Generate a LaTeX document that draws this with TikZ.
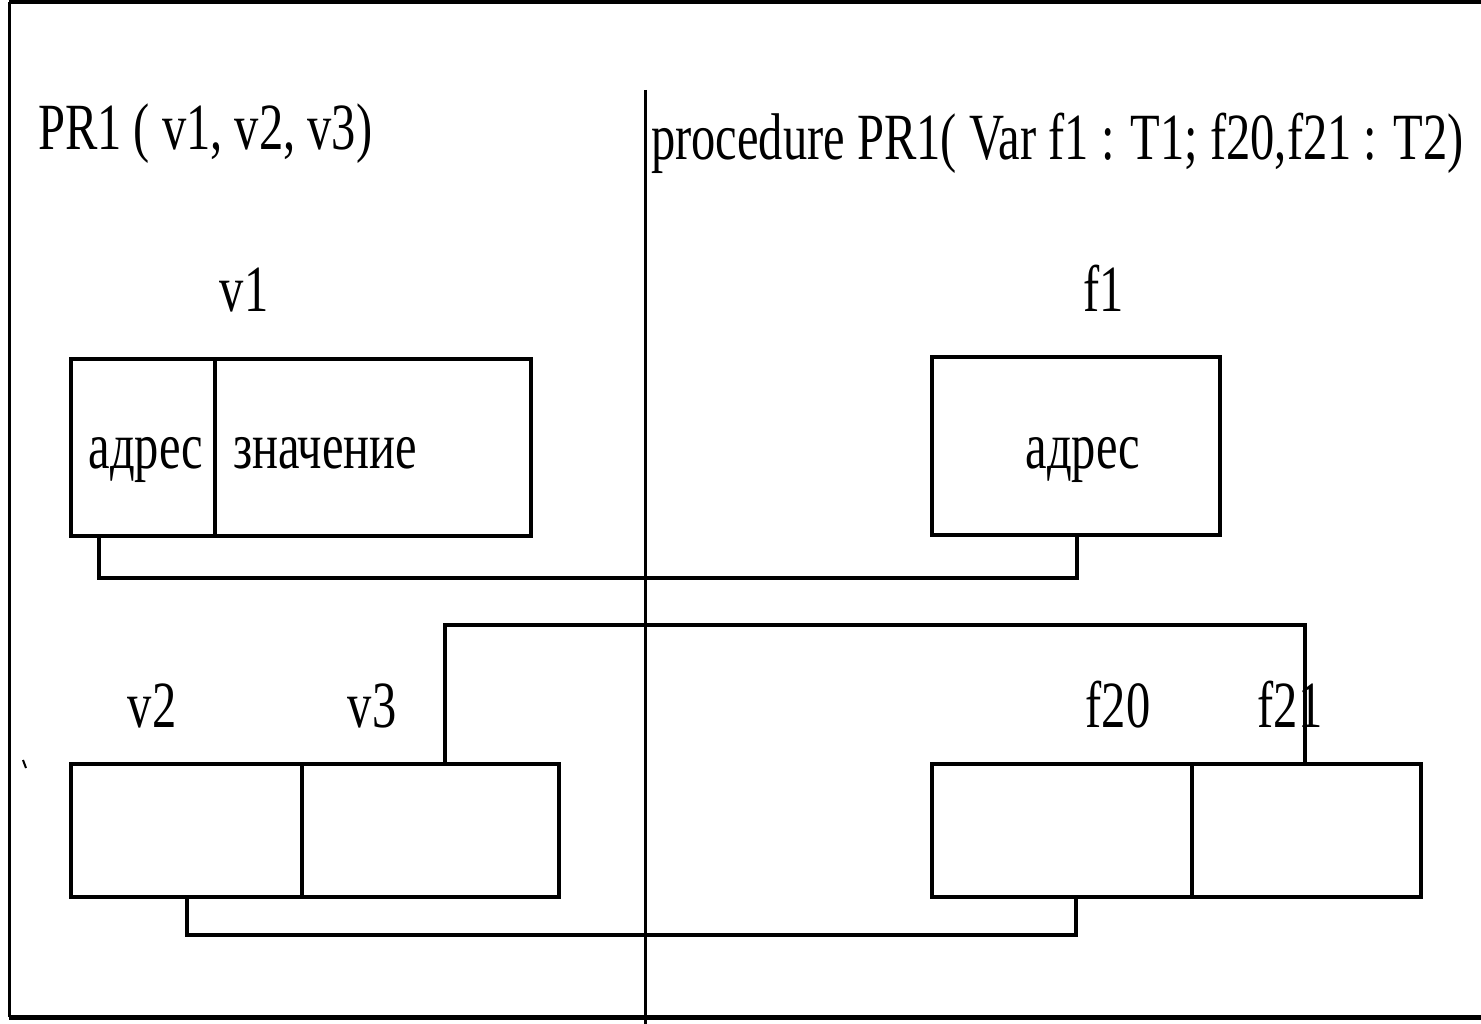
\documentclass[tikz,border=0pt]{standalone}
\usepackage{fontspec}
\setmainfont{Liberation Serif}[FakeStretch=0.735]
\begin{document}
\begin{tikzpicture}[x=1pt,y=-1pt,
  cell/.style={draw,line width=4pt,inner sep=0pt,outer sep=0pt,anchor=north west},
  conn/.style={line width=4pt},
  thin/.style={line width=3pt},
  lbl/.style={inner sep=0pt,anchor=base,font=\fontsize{66}{74}\selectfont},
  lblw/.style={inner sep=0pt,anchor=base west,font=\fontsize{66}{74}\selectfont}]
\useasboundingbox (0,0) rectangle (1481,1024);
% frame
\draw[line width=4pt] (9,2) -- (1481,2);
\draw[thin] (9,2) -- (9,1017);
\draw[line width=5pt] (9,1017) -- (1481,1017);
% centre line
\coordinate (ctop) at (645,90);
\coordinate (cbot) at (645,1024);
\draw[thin] (ctop) -- (cbot);
% titles
\node[lblw] (t1) at (38,150) {PR1 ( v1, v2, v3)};
\node[lblw] (t2) at (651,160) {procedure PR1( Var f1 : T1; f20,f21 : T2)};
% v1
\node[cell,minimum width=144pt,minimum height=177pt] (v1a) at (71,359) {};
\node[cell,minimum width=316pt,minimum height=177pt] (v1b) at (215,359) {};
\node[lbl] (v1at) at (146,468) {адрес};
\node[lblw] (v1bt) at (233,468) {значение};
\node[lbl] (v1l) at (244,312) {v1};
% f1
\node[cell,minimum width=288pt,minimum height=178pt] (f1) at (932,357) {};
\node[lbl] (f1t) at (1083,468) {адрес};
\node[lbl] (f1l) at (1104,312) {f1};
% v2 v3
\node[cell,minimum width=231pt,minimum height=133pt] (v2) at (71,764) {};
\node[cell,minimum width=257pt,minimum height=133pt] (v3) at (302,764) {};
\node[lbl] (v2l) at (152,727) {v2};
\node[lbl] (v3l) at (372,727) {v3};
% f20 f21
\node[cell,minimum width=260pt,minimum height=133pt] (f20) at (932,764) {};
\node[cell,minimum width=229pt,minimum height=133pt] (f21) at (1192,764) {};
\node[lbl] (f20l) at (1118,727) {f20};
\node[lbl] (f21l) at (1290,727) {f21};
% connectors
\draw[conn] ([xshift=28pt]v1a.south west) -- ++(0,42) -| ([xshift=145pt]f1.south west);
\draw[conn] ([xshift=143pt]v3.north west) -- ++(0,-139) -| ([xshift=113pt]f21.north west);
\draw[conn] ([xshift=116pt]v2.south west) -- ++(0,38) -| ([xshift=144pt]f20.south west);
% small mark
\draw[line width=2pt] (23,760) -- (26,768);
\end{tikzpicture}
\end{document}
